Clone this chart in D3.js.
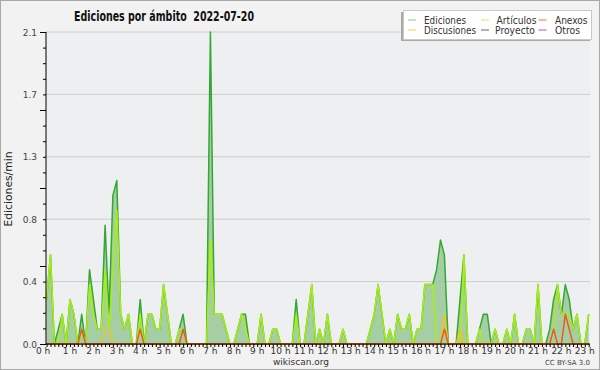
<!DOCTYPE html>
<html><head><meta charset="utf-8">
<script src="https://cdn.jsdelivr.net/npm/d3@7"></script>
<style>
html,body{margin:0;padding:0;background:#f2f2f2;}
svg{display:block;}
text{font-family:"DejaVu Sans",sans-serif;}
</style></head>
<body>
<svg id="c" width="600" height="370"></svg>
<script>
// ---- data (10-minute buckets, edits per minute) ----
const title = "Ediciones por ámbito  2022-07-20";
const yLabel = "Ediciones/min";
const hourLabels = d3.range(0, 24).map(h => h + " h");
const yTickLabels = ["0.0","0.4","0.8","1.3","1.7","2.1"];
const seriesNames = ["Ediciones","Artículos","Anexos","Discusiones","Proyecto","Otros"];

const ediciones = [
0.3,0.6,0,0.1,0.2,0,0.3,0.2,0,0.2, 0,0.5,0.3,0.1,0.1,0.8,0.2,1.0,1.1,0.2,
0.1,0.2,0,0,0.3,0,0.2,0.2,0.1,0.1, 0.4,0.2,0,0,0.1,0.2,0,0,0,0,
0,0,2.1,0.2,0.2,0.2,0.1,0,0,0.1, 0.2,0.2,0,0,0,0.2,0,0,0.1,0.1,
0,0,0,0,0.3,0,0,0.2,0.4,0, 0.1,0,0.2,0,0,0,0.1,0,0,0,
0,0,0,0.1,0.2,0.4,0.2,0,0.1,0, 0.2,0.1,0.1,0.2,0,0.1,0.1,0.4,0.4,0.4,
0.5,0.7,0.6,0,0,0,0.3,0.6,0,0, 0,0.1,0.2,0.2,0,0.1,0,0,0.1,0,
0.2,0,0,0.1,0.1,0,0.4,0,0,0.1, 0.3,0.4,0.2,0.4,0.3,0.1,0.2,0,0,0.2];

const articulos = [
0.3,0.6,0,0,0.2,0,0.3,0.2,0,0.1, 0,0.4,0.2,0.1,0.1,0.5,0.1,0.5,0.9,0.2,
0.1,0.2,0,0,0.2,0,0.2,0.2,0.1,0.1, 0.4,0.2,0,0,0.1,0.1,0,0,0,0,
0,0,0.7,0.2,0.2,0.2,0.1,0,0,0.1, 0.2,0.1,0,0,0,0.2,0,0,0.1,0.1,
0,0,0,0,0.2,0,0,0.2,0.4,0, 0.1,0,0.2,0,0,0,0.1,0,0,0,
0,0,0,0.1,0.2,0.4,0.2,0,0.1,0, 0.2,0.1,0.1,0.2,0,0.1,0.1,0.4,0.4,0.4,
0,0,0,0,0,0,0,0.6,0,0, 0,0.1,0,0,0,0.1,0,0,0.1,0,
0.2,0,0,0.1,0.1,0,0.4,0,0,0, 0.1,0.4,0.2,0.2,0.2,0.1,0.2,0,0,0.2];

const anexos = [
0,0,0,0,0,0,0,0,0,0.1, 0,0,0,0,0,0,0,0,0,0,
0,0,0,0,0.1,0,0,0,0,0, 0,0,0,0,0,0.1,0,0,0,0,
0,0,0,0,0,0,0,0,0,0, 0,0,0,0,0,0,0,0,0,0,
0,0,0,0,0,0,0,0,0,0, 0,0,0,0,0,0,0,0,0,0,
0,0,0,0,0,0,0,0,0,0, 0,0,0,0,0,0,0,0,0,0,
0,0,0.1,0,0,0,0,0,0,0, 0,0,0,0,0,0,0,0,0,0,
0,0,0,0,0,0,0,0,0,0, 0.1,0,0,0.2,0.1,0,0,0,0,0];

const discusiones = [
0,0,0,0,0,0,0,0,0,0, 0,0,0,0,0,0.1,0.1,0,0,0,
0,0,0,0,0,0,0,0,0,0, 0,0,0,0,0,0,0,0,0,0,
0,0,0,0,0,0,0,0,0,0, 0,0,0,0,0,0,0,0,0,0,
0,0,0,0,0,0,0,0,0,0, 0,0,0,0,0,0,0,0,0,0,
0,0,0,0,0,0,0,0,0,0, 0,0,0,0,0,0,0,0,0,0,
0,0,0.2,0,0,0,0.1,0,0,0, 0,0,0,0,0,0,0,0,0,0,
0,0,0,0,0,0,0,0,0,0, 0,0,0,0,0,0,0,0,0,0];

const proyecto = ediciones.map(() => 0);
const otros = ediciones.map(() => 0);

// ---- layout ----
const W = 600, H = 370;
const L = 46.6, R = 588.7, T = 32, B = 344;
const svg = d3.select("#c");

svg.append("rect").attr("x",0.5).attr("y",0.5).attr("width",W-1).attr("height",H-1)
  .attr("fill","#f2f2f2").attr("stroke","#a8a8a8");

const x = d3.scaleLinear().domain([0, ediciones.length - 1]).range([L, R]);
const y = d3.scaleLinear().domain([0, 2.1]).range([B, T]);

// plot background
svg.append("rect").attr("x",46).attr("y",T).attr("width",590-46).attr("height",B-T)
  .attr("fill","#eeeff1");

// grid
const majorY = d3.range(0, 6).map(k => k * 0.42);
svg.append("g").selectAll("line").data(majorY.slice(1)).join("line")
  .attr("x1",46).attr("x2",590).attr("y1",d=>y(d)).attr("y2",d=>y(d))
  .attr("stroke","#cccccc").attr("stroke-width",1);

// area + lines
const area = d3.area().x((d,i)=>x(i)).y0(y(0)).y1(d=>y(d));
const line = d3.line().x((d,i)=>x(i)).y(d=>y(d));
svg.append("path").datum(ediciones).attr("d",area).attr("fill","#98c898").attr("fill-opacity",0.85);

const seriesDraw = [
  {data: otros, color:"#9944ee"},
  {data: proyecto, color:"#555555"},
  {data: ediciones, color:"#33a833"},
  {data: articulos, color:"#aaee11"},
  {data: discusiones, color:"#f2c020"},
  {data: anexos, color:"#ee5a1a"}
];
seriesDraw.forEach(s => {
  svg.append("path").datum(s.data).attr("d",line).attr("fill","none")
    .attr("stroke",s.color).attr("stroke-width",1.5).attr("stroke-linejoin","round");
});

// y axis
const yAxis = d3.axisLeft(y).tickValues(d3.range(0, 21).map(k => k * 0.105))
  .tickSize(3).tickFormat("");
const gy = svg.append("g").attr("transform","translate(46,0)").call(yAxis);
gy.select(".domain").attr("stroke","#000").attr("d",`M0,${T}V${B}`);
gy.selectAll(".tick line").attr("stroke","#000")
  .attr("x2",(d,i)=> i % 5 === 0 ? -6 : -3);
svg.append("g").selectAll("text").data(majorY).join("text")
  .attr("x",37).attr("y",d=>y(d)+3.5).attr("text-anchor","end")
  .attr("font-size",9).attr("fill","#444").text((d,i)=>yTickLabels[i]);

// x axis
const xAxis = d3.axisBottom(x).tickValues(d3.range(0, ediciones.length)).tickSize(3).tickFormat("");
const gx = svg.append("g").attr("transform",`translate(0,${B})`).call(xAxis);
gx.select(".domain").attr("stroke","#000").attr("d",`M46,0H590`);
gx.selectAll(".tick line").attr("stroke","#000");
svg.append("g").selectAll("text").data(hourLabels).join("text")
  .attr("x",(d,i)=> x(i*6) - (i===0 ? 3.5 : 0)).attr("y",354).attr("text-anchor","middle")
  .attr("font-size",9).attr("fill","#333").text(d=>d);

// y label
svg.append("text").attr("transform","translate(12,189) rotate(-90)")
  .attr("text-anchor","middle").attr("font-size",10.5).attr("fill","#222")
  .attr("font-family","DejaVu Sans Mono, monospace")
  .attr("textLength",75).attr("lengthAdjust","spacingAndGlyphs").text(yLabel);

// title
svg.append("text").attr("x",74).attr("y",21).attr("font-size",14).attr("font-weight","bold")
  .attr("fill","#111").style("white-space","pre")
  .attr("textLength",180).attr("lengthAdjust","spacingAndGlyphs").text(title);

// footer
svg.append("text").attr("x",301).attr("y",365).attr("text-anchor","middle")
  .attr("font-size",9).attr("fill","#333").text("wikiscan.org");
svg.append("text").attr("x",590).attr("y",365).attr("text-anchor","end")
  .attr("font-size",7).attr("fill","#444").text("CC BY-SA 3.0");

// legend
const lg = svg.append("g");
lg.append("rect").attr("x",401).attr("y",12).attr("width",189).attr("height",29).attr("fill","#a9a9a9");
lg.append("rect").attr("x",403.5).attr("y",10.5).attr("width",188).attr("height",29)
  .attr("fill","#ffffff").attr("stroke","#c8c8c8");
const legendItems = [
  {name:seriesNames[0], color:"#88cc88", lx:408, tx:424, w:42, row:0},
  {name:seriesNames[1], color:"#ccee55", lx:481, tx:496.5, w:40, row:0},
  {name:seriesNames[2], color:"#ee7744", lx:538.5, tx:555, w:32.5, row:0},
  {name:seriesNames[3], color:"#f0d050", lx:408, tx:424, w:52, row:1},
  {name:seriesNames[4], color:"#666666", lx:481, tx:495, w:40, row:1},
  {name:seriesNames[5], color:"#9955ee", lx:538.5, tx:555, w:25, row:1}
];
legendItems.forEach(it => {
  const cy = it.row === 0 ? 20 : 30;
  lg.append("line").attr("x1",it.lx).attr("x2",it.lx+8).attr("y1",cy).attr("y2",cy)
    .attr("stroke",it.color).attr("stroke-width",1);
  lg.append("text").attr("x",it.tx).attr("y",cy+3.5).attr("font-size",10)
    .attr("fill","#333").attr("textLength",it.w).attr("lengthAdjust","spacingAndGlyphs")
    .text(it.name);
});
</script>
</body></html>
